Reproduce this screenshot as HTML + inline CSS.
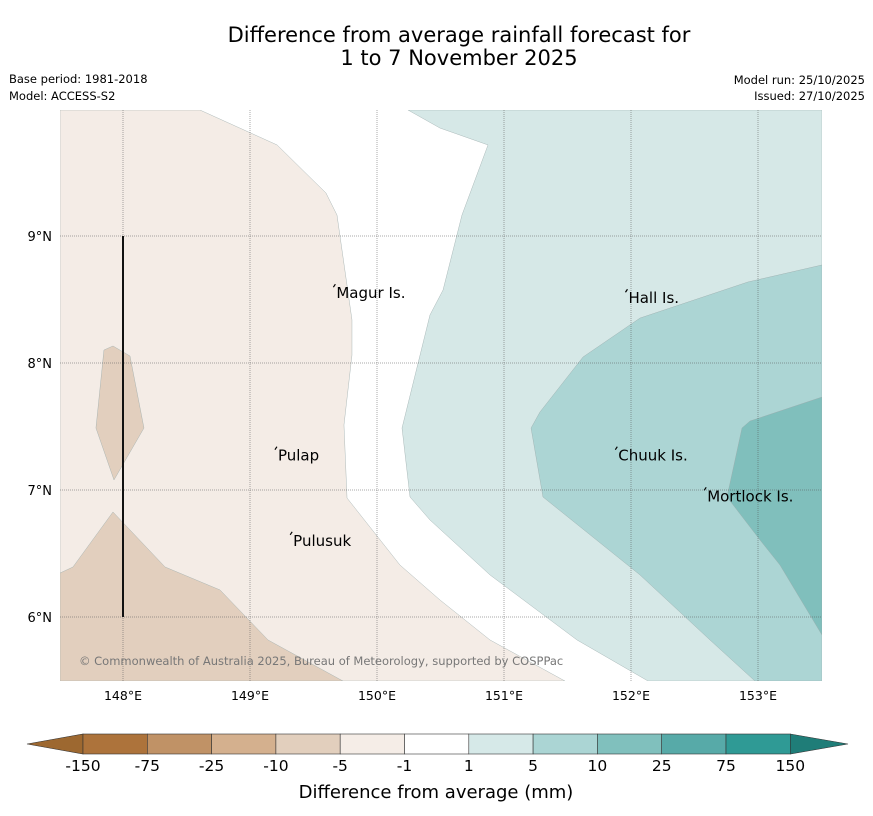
<!DOCTYPE html>
<html><head><meta charset="utf-8"><style>
body{margin:0;background:#fff;width:873px;height:816px;overflow:hidden;font-family:"DejaVu Sans","Liberation Sans",sans-serif}
svg{display:block}
</style></head><body>
<svg id="chart" width="873" height="816">
<text x="459" y="42" font-size="21" text-anchor="middle">Difference from average rainfall forecast for</text>
<text x="459" y="65" font-size="21" text-anchor="middle">1 to 7 November 2025</text>
<text x="9" y="83" font-size="11.5">Base period: 1981-2018</text>
<text x="9" y="100" font-size="11.5">Model: ACCESS-S2</text>
<text x="865" y="84" font-size="11.5" text-anchor="end">Model run: 25/10/2025</text>
<text x="865" y="100" font-size="11.5" text-anchor="end">Issued: 27/10/2025</text>
<defs><clipPath id="mapclip"><rect x="60" y="110" width="762" height="571"/></clipPath></defs>
<g id="map" clip-path="url(#mapclip)"></g>
<g id="grid"></g>
<g id="labels"></g>
<g id="cbar"></g>
<text x="436" y="798" font-size="18" text-anchor="middle">Difference from average (mm)</text>
</svg>
<script>
const lonTicks=[148,149,150,151,152,153];
const latTicks=[6,7,8,9];
const regions=[
 {name:'region-minus5-to-minus1',color:'#f4ece6',pts:[[148.606,9.992],[149.213,9.717],[149.598,9.339],[149.685,9.165],[149.803,8.339],[149.803,8.063],[149.740,7.512],[149.764,6.937],[150.181,6.409],[150.496,6.134],[150.890,5.819],[151.480,5.496],[147.504,5.496],[147.504,9.992]]},
 {name:'region-minus10-to-minus5-south',color:'#e2cfbe',pts:[[147.504,6.346],[147.606,6.394],[147.921,6.827],[148.331,6.394],[148.764,6.213],[149.142,5.819],[149.732,5.496],[147.504,5.496]]},
 {name:'region-minus10-to-minus5-north',color:'#e2cfbe',pts:[[147.850,8.102],[147.921,8.134],[148.055,8.055],[148.165,7.488],[147.929,7.079],[147.787,7.488]]},
 {name:'region-1-to-5',color:'#d6e8e7',pts:[[150.244,9.992],[150.496,9.850],[150.874,9.717],[150.669,9.165],[150.520,8.575],[150.417,8.378],[150.197,7.488],[150.260,6.945],[150.417,6.764],[150.890,6.331],[151.575,5.819],[152.134,5.496],[153.504,5.496],[153.504,9.992]]},
 {name:'region-5-to-10',color:'#acd5d4',pts:[[153.504,8.772],[152.921,8.638],[152.071,8.354],[151.622,8.047],[151.283,7.614],[151.213,7.488],[151.307,6.945],[152.071,6.331],[152.622,5.819],[152.976,5.496],[153.504,5.496]]},
 {name:'region-10-to-25',color:'#80bfbc',pts:[[153.504,7.732],[152.937,7.543],[152.874,7.488],[152.756,6.945],[153.016,6.606],[153.173,6.409],[153.504,5.858]]}
];
const islands=[['Magur Is.',149.68,8.55],['Hall Is.',151.98,8.51],['Chuuk Is.',151.9,7.27],['Mortlock Is.',152.6,6.95],['Pulap',149.22,7.27],['Pulusuk',149.34,6.6]];
const cbLabels=['-150','-75','-25','-10','-5','-1','1','5','10','25','75','150'];
const cbColors=['#ad733b','#c09266','#d4b08e','#e2cfbd','#f5ede7','#ffffff','#d6e9e8','#abd5d4','#80c0bd','#57aaa8','#2f9a95'];
const NS='http://www.w3.org/2000/svg';
const X=lon=>123+(lon-148)*127, Y=lat=>236-(lat-9)*127;
function mk(tag,at,parent){const e=document.createElementNS(NS,tag);for(const k in at)e.setAttribute(k,at[k]);parent.appendChild(e);return e;}
const map=document.getElementById('map');
regions.forEach(r=>{const p=mk('polygon',{points:r.pts.map(q=>X(q[0])+','+Y(q[1])).join(' '),fill:r.color,stroke:'#9aa',"stroke-width":0.4},map);

});
const grid=document.getElementById('grid');
lonTicks.forEach(l=>{const ln=mk('line',{x1:X(l),x2:X(l),y1:110,y2:681,stroke:'#555','stroke-width':0.5,'stroke-dasharray':'1,1'},grid);


const t=mk('text',{x:X(l),y:700,'font-size':12.5,'text-anchor':'middle'},grid);t.textContent=l+'°E';

});
latTicks.forEach(l=>{const ln=mk('line',{x1:60,x2:822,y1:Y(l),y2:Y(l),stroke:'#555','stroke-width':0.5,'stroke-dasharray':'1,1'},grid);


const t=mk('text',{x:52,y:Y(l)+5,'font-size':13,'text-anchor':'end'},grid);t.textContent=l+'°N';

});
const vl=mk('line',{x1:X(148),x2:X(148),y1:Y(9),y2:Y(6),stroke:'#111','stroke-width':2},grid);


const lab=document.getElementById('labels');
islands.forEach(s=>{const t=mk('text',{x:X(s[1]),y:Y(s[2])+5,'font-size':15},lab);t.textContent=s[0];


const d=mk('path',{d:`M${X(s[1])-3},${Y(s[2])-6} l2,-3`,stroke:'#000','stroke-width':1.2},lab);

});
const cp=mk('text',{x:79,y:665,'font-size':11.5,fill:'#777'},lab);cp.textContent='© Commonwealth of Australia 2025, Bureau of Meteorology, supported by COSPPac';


const cb=document.getElementById('cbar');
const x0=83,w=64.3,yT=734,h=20;
const la=mk('polygon',{points:`27,${yT+h/2} ${x0},${yT} ${x0},${yT+h}`,fill:'#9d6830',stroke:'#333','stroke-width':0.6},cb);


cbColors.forEach((c,i)=>{const r=mk('rect',{x:x0+i*w,y:yT,width:w,height:h,fill:c,stroke:'#333','stroke-width':0.6},cb);

});
const xe=x0+cbColors.length*w;
const ra=mk('polygon',{points:`${xe},${yT} 848,${yT+h/2} ${xe},${yT+h}`,fill:'#1f7d78',stroke:'#333','stroke-width':0.6},cb);


cbLabels.forEach((l,i)=>{const t=mk('text',{x:x0+i*w,y:771,'font-size':15.5,'text-anchor':'middle'},cb);t.textContent=l;

});
</script>
</body></html>
